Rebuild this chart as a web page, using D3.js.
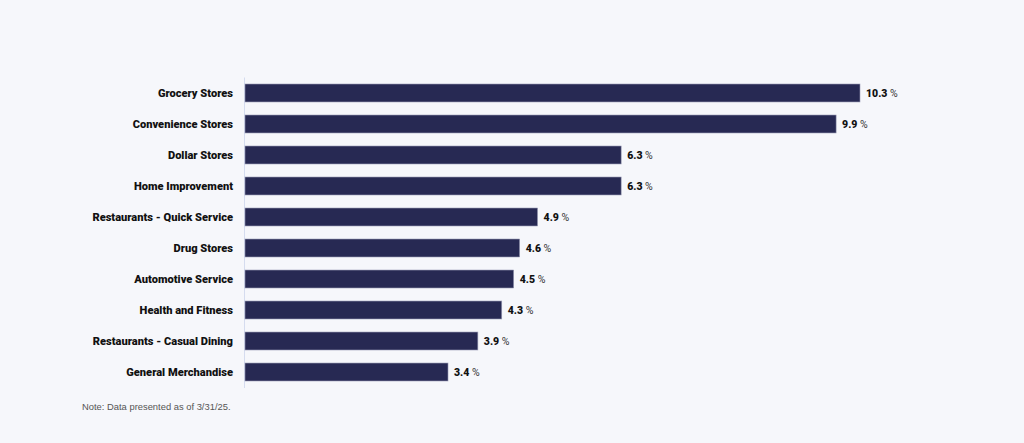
<!DOCTYPE html>
<html>
<head>
<meta charset="utf-8">
<script src="https://cdn.jsdelivr.net/npm/d3@7"></script>
<style>
  body { margin: 0; background: #f6f7fb; }
</style>
</head>
<body>
<script>
var categories = ["Grocery Stores", "Convenience Stores", "Dollar Stores", "Home Improvement",
    "Restaurants - Quick Service", "Drug Stores", "Automotive Service", "Health and Fitness",
    "Restaurants - Casual Dining", "General Merchandise"];
var values = [10.3, 9.9, 6.3, 6.3, 4.9, 4.6, 4.5, 4.3, 3.9, 3.4];
var note = "Note: Data presented as of 3/31/25.";

var svg = d3.select("body")
    .append("svg")
    .attr("width", 1024)
    .attr("height", 443)
    .style("display", "block");

svg.append("rect")
    .attr("width", 1024)
    .attr("height", 443)
    .attr("fill", "#f6f7fb");

var x = d3.scaleLinear()
    .domain([0, 10.3])
    .range([245, 860]);

var y = d3.scaleBand()
    .domain(categories)
    .range([84, 381])
    .paddingInner(0.42)
    .paddingOuter(0);

// y axis line
svg.append("line")
    .attr("x1", 244.5)
    .attr("x2", 244.5)
    .attr("y1", 77.5)
    .attr("y2", 388)
    .attr("stroke", "#d5dcef")
    .attr("stroke-width", 1);

var data = categories.map(function(c, i) { return {cat: c, val: values[i]}; });

svg.selectAll(".bar")
    .data(data)
    .enter()
    .append("rect")
    .attr("class", "bar")
    .attr("x", x(0))
    .attr("y", function(d) { return y(d.cat); })
    .attr("width", function(d) { return x(d.val) - x(0); })
    .attr("height", y.bandwidth())
    .attr("fill", "#272953")
    .attr("stroke", "#9a9cb5")
    .attr("stroke-width", 0.6);

svg.selectAll(".cat")
    .data(data)
    .enter()
    .append("text")
    .attr("class", "cat")
    .attr("x", 233)
    .attr("y", function(d) { return y(d.cat) + y.bandwidth() / 2; })
    .attr("dy", "0.35em")
    .attr("text-anchor", "end")
    .attr("font-family", "Roboto, Liberation Sans, Arial, sans-serif")
    .attr("font-weight", 900)
    .attr("font-size", "11.1px")
    .attr("fill", "#111")
    .text(function(d) { return d.cat; });

var vals = svg.selectAll(".val")
    .data(data)
    .enter()
    .append("text")
    .attr("class", "val")
    .attr("x", function(d) { return x(d.val) + 6; })
    .attr("y", function(d) { return y(d.cat) + y.bandwidth() / 2; })
    .attr("dy", "0.38em")
    .attr("font-family", "Roboto, Liberation Sans, Arial, sans-serif")
    .attr("font-size", "10.5px")
    .attr("fill", "#111");

vals.append("tspan")
    .attr("font-weight", 900)
    .text(function(d) { return d.val.toFixed(1); });
vals.append("tspan")
    .attr("fill", "#333")
    .text(" %");

svg.append("text")
    .attr("x", 82)
    .attr("y", 410)
    .attr("font-family", "Liberation Sans, Arial, sans-serif")
    .attr("font-size", "9.4px")
    .attr("fill", "#555")
    .text(note);
</script>
</body>
</html>
